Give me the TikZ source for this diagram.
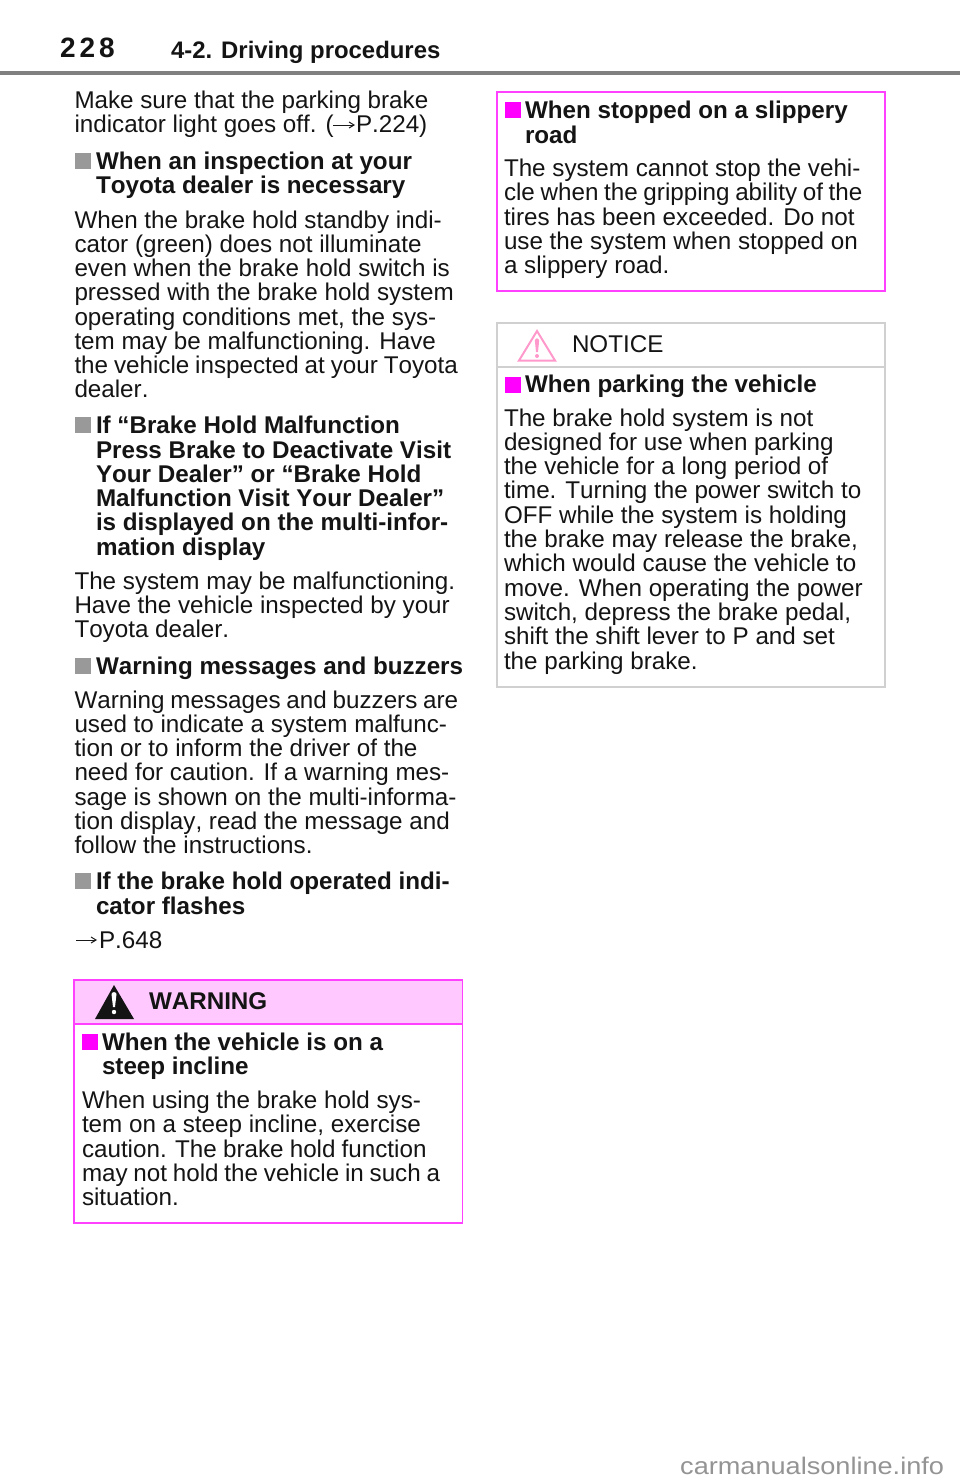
\documentclass[tikz,border=0pt]{standalone}
\usepackage{fontspec}
\setmainfont[Kerning=Off,Ligatures=NoCommon]{Liberation Sans}
\newfontfamily\pagenumfont[LetterSpace=14,Kerning=Off]{Liberation Sans}
\newfontfamily\markfont[FakeStretch=1.13,Kerning=Off]{Liberation Sans}
\usetikzlibrary{arrows.meta}
\definecolor{magline}{HTML}{FF40FF}
\definecolor{magfill}{HTML}{FFC8FF}
\definecolor{magsq}{HTML}{FF00FF}
\definecolor{greysq}{HTML}{999999}
\definecolor{noteline}{HTML}{D0D0D0}
\definecolor{notepink}{HTML}{FF99CC}
\newcounter{ln}
\tikzset{
  x=1pt,y=-1pt,
  bodytext/.style={anchor=base west,inner sep=0pt,outer sep=0pt,font=\fontsize{24.2}{24.2}\selectfont,text=black!92},
  headtext/.style={bodytext,font=\fontsize{24.2}{24.2}\selectfont\bfseries},
  squaremark/.style={draw=none,minimum width=16pt,minimum height=16pt,inner sep=0pt,outer sep=0pt,anchor=north west},
  refarrow/.style={draw=black!90,line width=1pt,-{Straight Barb[length=5pt,width=6pt]}},
  magbox/.style={draw=magline,line width=1.4pt},
  notebox/.style={draw=noteline,line width=1.4pt}
}
\newcommand{\BT}[3]{\stepcounter{ln}\node[bodytext] (b\theln) at (#1,#2) {#3};}
\newcommand{\HT}[3]{\stepcounter{ln}\node[headtext] (h\theln) at (#1,#2) {#3};}
\newcommand{\tightwords}[2]{{\spaceskip=#1\relax #2}}
\begin{document}
\begin{tikzpicture}
\useasboundingbox (0,0) rectangle (960,1484);
% header
\fill[white] (0,0) rectangle (960,1484);
\node[anchor=base west,inner sep=0pt,font=\fontsize{28}{28}\selectfont\pagenumfont\bfseries,text=black!92] (pageno) at (60,57) {228};
\node[anchor=base west,inner sep=0pt,font=\fontsize{23.9}{23.9}\selectfont\bfseries,text=black!92] (chapter) at (171,58) {4-2. Driving procedures};
\draw[line width=4pt,color=black!50] (0,73) -- (960,73);
% left column
\BT{74.5}{108}{Make sure that the parking brake}
\node[bodytext] (refa) at (74.5,132) {indicator light goes off. (};
\coordinate (arra) at (333,125);
\coordinate (arrb) at (355,125);
\draw[refarrow] (arra) -- (arrb);
\node[bodytext] (refb) at (356,132) {P.224)};
\node[squaremark,fill=greysq] (s1) at (75,153) {};
\HT{96}{169}{When an inspection at your}
\HT{96}{193}{Toyota dealer is necessary}
\BT{74.5}{228}{When the brake hold standby indi-}
\BT{74.5}{252}{cator (green) does not illuminate}
\BT{74.5}{276}{even when the brake hold switch is}
\BT{74.5}{300}{pressed with the brake hold system}
\BT{74.5}{325}{operating conditions met, the sys-}
\BT{74.5}{349}{tem may be malfunctioning. Have}
\BT{74.5}{373}{\tightwords{5.9pt}{the vehicle inspected at your Toyota}}
\BT{74.5}{397}{dealer.}
\node[squaremark,fill=greysq] (s2) at (75,417) {};
\HT{96}{433}{If “Brake Hold Malfunction}
\HT{96}{458}{Press Brake to Deactivate Visit}
\HT{96}{482}{Your Dealer” or “Brake Hold}
\HT{96}{506}{Malfunction Visit Your Dealer”}
\HT{96}{530}{is displayed on the multi-infor-}
\HT{96}{555}{mation display}
\BT{74.5}{589}{The system may be malfunctioning.}
\BT{74.5}{613}{Have the vehicle inspected by your}
\BT{74.5}{637}{Toyota dealer.}
\node[squaremark,fill=greysq] (s3) at (75,658) {};
\HT{96}{674}{Warning messages and buzzers}
\BT{74.5}{708}{\tightwords{5.8pt}{Warning messages and buzzers are}}
\BT{74.5}{732}{used to indicate a system malfunc-}
\BT{74.5}{756}{tion or to inform the driver of the}
\BT{74.5}{780}{need for caution. If a warning mes-}
\BT{74.5}{805}{sage is shown on the multi-informa-}
\BT{74.5}{829}{tion display, read the message and}
\BT{74.5}{853}{follow the instructions.}
\node[squaremark,fill=greysq] (s4) at (75,873) {};
\HT{96}{889}{If the brake hold operated indi-}
\HT{96}{914}{cator flashes}
\coordinate (arrc) at (76,940);
\coordinate (arrd) at (97,940);
\draw[refarrow] (arrc) -- (arrd);
\node[bodytext] (refc) at (99,948) {P.648};
% warning box
\filldraw[magbox,fill=magfill] (74,980) rectangle (462.7,1024);
\draw[magbox] (74,1024) rectangle (462.7,1223);
\fill[black!92] (114,985) -- (134,1019) -- (95,1019) -- cycle;
\fill[white] (111.5,994) .. controls (112,991.5) and (116,991.5) .. (116.5,994) -- (115,1007) -- (113,1007) -- cycle;
\fill[white] (114,1012) circle (2.2);
\node[headtext] (warn) at (149,1009) {WARNING};
\node[squaremark,fill=magsq] (s5) at (82,1034) {};
\HT{102}{1050}{When the vehicle is on a}
\HT{102}{1074}{steep incline}
\BT{82}{1108}{When using the brake hold sys-}
\BT{82}{1132}{tem on a steep incline, exercise}
\BT{82}{1157}{\tightwords{6.2pt}{caution. The brake hold function}}
\BT{82}{1181}{\tightwords{5.8pt}{may not hold the vehicle in such a}}
\BT{82}{1205}{situation.}
% right top box
\draw[magbox] (497,92) rectangle (885,291);
\node[squaremark,fill=magsq] (s6) at (505,102) {};
\HT{525}{118}{When stopped on a slippery}
\HT{525}{143}{road}
\BT{504}{176}{The system cannot stop the vehi-}
\BT{504}{200}{\tightwords{5.7pt}{cle when the gripping ability of the}}
\BT{504}{225}{tires has been exceeded. Do not}
\BT{504}{249}{use the system when stopped on}
\BT{504}{273}{a slippery road.}
% notice box
\draw[notebox] (497,323) rectangle (885,687);
\draw[notebox] (497,367) -- (885,367);
\draw[draw=notepink,line width=2pt,line join=miter] (537,331) -- (555,360.5) -- (519,360.5) -- cycle;
\fill[notepink] (534.8,340) .. controls (535.2,337.5) and (538.8,337.5) .. (539.2,340) -- (538,352) -- (536,352) -- cycle;
\fill[notepink] (537,356) circle (2);
\node[bodytext] (note) at (572,352) {NOTICE};
\node[squaremark,fill=magsq] (s7) at (505,377) {};
\HT{525}{392}{When parking the vehicle}
\BT{504}{426}{The brake hold system is not}
\BT{504}{450}{designed for use when parking}
\BT{504}{474}{the vehicle for a long period of}
\BT{504}{498}{time. Turning the power switch to}
\BT{504}{523}{OFF while the system is holding}
\BT{504}{547}{the brake may release the brake,}
\BT{504}{571}{which would cause the vehicle to}
\BT{504}{596}{move. When operating the power}
\BT{504}{620}{switch, depress the brake pedal,}
\BT{504}{644}{shift the shift lever to P and set}
\BT{504}{669}{the parking brake.}
% watermark
\node[anchor=base west,inner sep=0pt,font=\fontsize{24}{24}\selectfont\markfont,text=black!42] (mark) at (680,1474) {carmanualsonline.info};
\end{tikzpicture}
\end{document}
